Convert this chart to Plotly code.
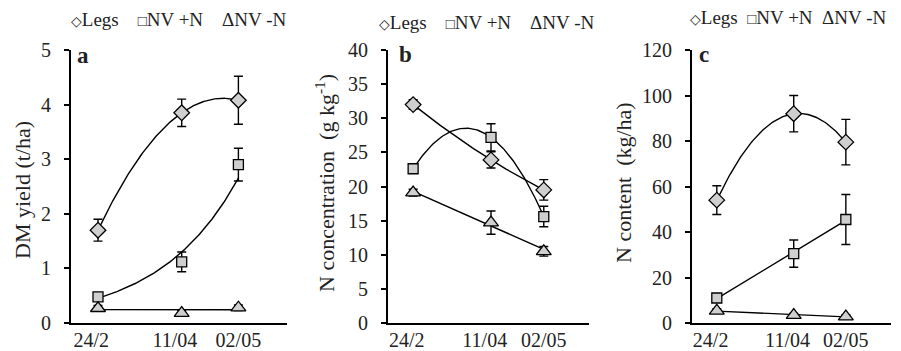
import numpy as np
import plotly.graph_objects as go

# ---------------- data ----------------
dates = ["24/2", "11/04", "02/05"]
x_pos = [1.0, 4.1, 6.2]

# panel a: DM yield (t/ha)
a_legs = [1.70, 3.85, 4.08]
a_legs_err = [0.20, 0.25, 0.44]
a_nvn = [0.48, 1.12, 2.90]
a_nvn_err = [0.06, 0.18, 0.30]
a_nv0 = [0.27, 0.18, 0.28]
a_nv0_err = [0.05, 0.05, 0.05]

# panel b: N concentration (g/kg)
b_legs = [32.0, 23.9, 19.5]
b_legs_err = [0.7, 1.2, 1.5]
b_nvn = [22.6, 27.2, 15.6]
b_nvn_err = [0.5, 2.0, 1.5]
b_nv0 = [19.1, 14.7, 10.5]
b_nv0_err = [0.5, 1.7, 0.7]

# panel c: N content (kg/ha)
c_legs = [54.0, 92.0, 79.5]
c_legs_err = [6.3, 8.0, 10.0]
c_nvn = [11.0, 30.5, 45.5]
c_nvn_err = [1.5, 6.0, 11.0]
c_nv0 = [5.3, 3.5, 2.8]
c_nv0_err = [1.0, 0.7, 0.7]

FONT = "Liberation Serif, DejaVu Serif, serif"
NB = "\u00a0"


def legend_text(gap):
    return ('<span style="font-size:14px">◇</span>Legs' + NB * gap +
            '<span style="font-size:15px">□</span>NV +N' + NB * gap + 'ΔNV -N')


W, H = 901, 351
OFF = 8  # page offset of the plot inside the browser window
fig = go.Figure()

xs = np.linspace(min(x_pos), max(x_pos), 120)
tick_pos = [0.75, 3.85, 6.2]


def trend(y, kind):
    x = np.array(x_pos)
    y = np.array(y)
    if kind == "poly2":
        p = np.polyfit(x, y, 2)
        return np.polyval(p, xs)
    if kind == "lin":
        p = np.polyfit(x, y, 1)
        return np.polyval(p, xs)
    if kind == "exp":
        p = np.polyfit(x, np.log(y), 1)
        return np.exp(np.polyval(p, xs))


panels = [
    ("x", "y", [(a_legs, a_legs_err, "diamond", "poly2", 12),
                (a_nvn, a_nvn_err, "square", "exp", 10),
                (a_nv0, a_nv0_err, "triangle-up", "lin", 13)]),
    ("x2", "y2", [(b_legs, b_legs_err, "diamond", "poly2", 12),
                  (b_nvn, b_nvn_err, "square", "poly2", 10),
                  (b_nv0, b_nv0_err, "triangle-up", "lin", 13)]),
    ("x3", "y3", [(c_legs, c_legs_err, "diamond", "poly2", 12),
                  (c_nvn, c_nvn_err, "square", "lin", 10),
                  (c_nv0, c_nv0_err, "triangle-up", "lin", 13)]),
]

for xa, ya, series in panels:
    for vals, err, sym, kind, size in series:
        fig.add_trace(go.Scatter(x=xs, y=trend(vals, kind), mode="lines",
                                 line=dict(color="black", width=1.4),
                                 xaxis=xa, yaxis=ya, showlegend=False,
                                 hoverinfo="skip"))
    for vals, err, sym, kind, size in series:
        fig.add_trace(go.Scatter(x=x_pos, y=vals, mode="markers",
                                 marker=dict(symbol=sym, size=size, color="#cfcfcf",
                                             line=dict(color="black", width=1.3)),
                                 error_y=dict(type="data", array=err, visible=True,
                                              color="black", thickness=1.4, width=4.5),
                                 xaxis=xa, yaxis=ya, showlegend=False))


def px(x):
    return (x - OFF) / W


def py(y):
    return 1 - (y - OFF) / H


ydom = [py(323), py(50)]
xdoms = [[px(71), px(287)], [px(388), px(589)], [px(692), px(890.5)]]
yranges = [[0, 5], [0, 40], [0, 120]]
dticks = [1, 5, 20]

axis_font = dict(family=FONT, size=20, color="#222")
layout = dict(
    width=W, height=H, margin=dict(l=0, r=0, t=0, b=0),
    paper_bgcolor="white", plot_bgcolor="white",
    font=dict(family=FONT, color="#222"),
)
for i in range(3):
    sfx = "" if i == 0 else str(i + 1)
    layout["xaxis" + sfx] = dict(
        domain=xdoms[i], range=[0, 8], anchor="y" + sfx,
        tickvals=tick_pos, ticktext=dates, ticks="", showgrid=False, zeroline=False,
        showline=True, linecolor="black", linewidth=2, tickfont=axis_font,
        ticklabelstandoff=-2, fixedrange=True, automargin=False)
    layout["yaxis" + sfx] = dict(
        domain=ydom, range=yranges[i], dtick=dticks[i], anchor="x" + sfx,
        ticks="outside", ticklen=5, tickwidth=1.5, tickcolor="black",
        showgrid=False, zeroline=False, showline=True, linecolor="black",
        linewidth=2, tickfont=axis_font, ticklabelstandoff=9, fixedrange=True,
        automargin=False)
fig.update_layout(**layout)

annotations = []
# legends
for cx, cy, gap in [(178, 20, 4), (486, 22, 4), (788, 18, 2)]:
    annotations.append(dict(x=px(cx), y=py(cy), xref="paper", yref="paper",
                            xanchor="center", yanchor="middle",
                            text=legend_text(gap), showarrow=False,
                            font=dict(family=FONT, size=19, color="#222")))
# panel letters
for cx, cy, letter in [(83, 56, "a"), (405, 54, "b"), (704, 54, "c")]:
    annotations.append(dict(x=px(cx), y=py(cy), xref="paper", yref="paper",
                            xanchor="center", yanchor="middle",
                            text="<b>" + letter + "</b>", showarrow=False,
                            font=dict(family=FONT, size=23, color="#222")))
# axis titles
for cx, cy, t in [(22, 190, "DM yield (t/ha)"),
                  (325, 183, "N concentration  (g kg<sup>-1</sup>)"),
                  (623, 183, "N content  (kg/ha)")]:
    annotations.append(dict(x=px(cx), y=py(cy), xref="paper", yref="paper",
                            xanchor="center", yanchor="middle",
                            text=t, textangle=-90, showarrow=False,
                            font=dict(family=FONT, size=22, color="#222")))
fig.update_layout(annotations=annotations)

fig.write_html("out.html")
